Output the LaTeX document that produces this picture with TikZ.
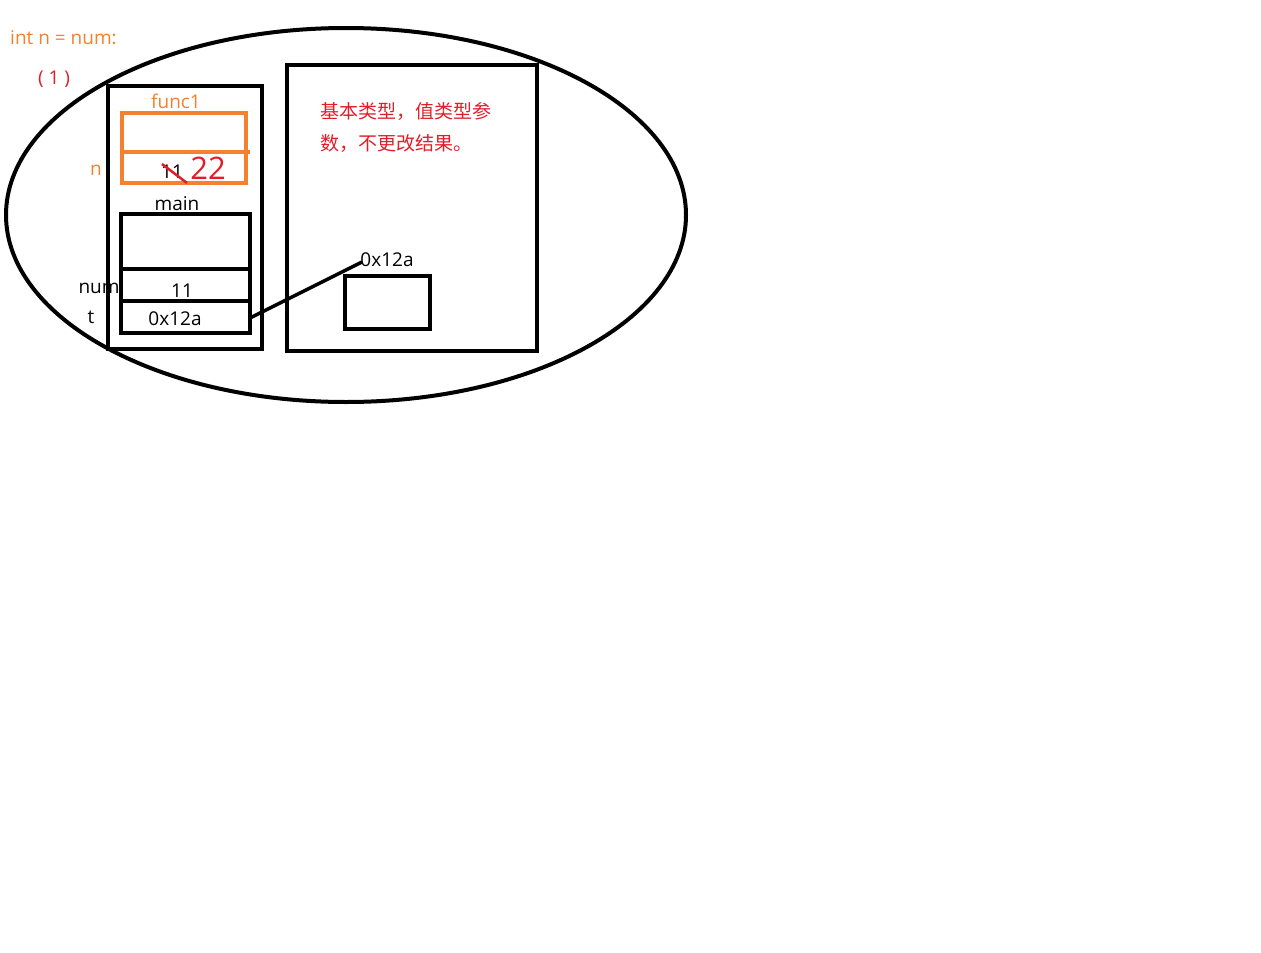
\documentclass[tikz,border=0pt]{standalone}
\usepackage{fontspec}
\setmainfont{Open Sans}
\newfontfamily\cjk{Noto Sans CJK SC}
\definecolor{org}{RGB}{245,128,45}
\definecolor{rd}{RGB}{225,30,40}
\begin{document}
\begin{tikzpicture}[x=1pt,y=-1pt,
  thick4/.style={line width=4pt},
  lbl/.style={font=\fontsize{19}{22}\selectfont, inner sep=0pt},
  cn/.style={font=\cjk\fontsize{19}{22}\selectfont, inner sep=0pt, text=rd, anchor=west}]
\useasboundingbox (0,0) rectangle (1261,953);
% labels drawn first so box lines overlay them
\node[lbl] (num) at (99,288) {num};
% ellipse
\draw[thick4] (346,215) ellipse [x radius=340, y radius=187];
% stack box
\draw[thick4] (108,86) rectangle (262,349);
% func1 frame
\draw[line width=3.5pt, org] (122,113) rectangle (246,183);
\draw[line width=3.5pt, org] (122,152) -- (250,152);
\node[lbl, text=org] (f1) at (176,101) {func1};
\node[lbl, text=org] (n) at (96,170) {n};
\node[lbl] (v11a) at (172,172) {11};
\draw[rd, line width=2.5pt] (162,164) -- (187,183);
\node[lbl, text=rd, font=\fontsize{31}{31}\selectfont] (v22) at (208,168) {22};
% main frame
\node[lbl] (mainl) at (177,204) {main};
\draw[thick4] (121,214) rectangle (250,333);
\draw[thick4] (121,269) -- (250,269);
\draw[thick4] (121,301) -- (250,301);
\node[lbl] (v11b) at (182,291) {11};
\node[lbl] (t) at (91,317) {t};
\node[lbl] (taddr) at (175,319) {0x12a};
\coordinate (tend) at (250,318);
% heap box
\draw[thick4] (287,65) rectangle (537,351);
\node[cn] (c1) at (320,111) {基本类型，值类型参};
\node[cn] (c2) at (320,144) {数，不更改结果。};
\node[lbl] (haddr) at (387,260) {0x12a};
\coordinate (hend) at (362,262);
\draw[thick4] (345,276) rectangle (430,329);
\draw[line width=3.5pt] (tend) -- (hend);
% labels top-left
\node[lbl, text=org, anchor=west] (code) at (10,38) {int n = num:};
\node[lbl, text=rd] (one) at (54,79) {( 1 )};
\end{tikzpicture}
\end{document}
